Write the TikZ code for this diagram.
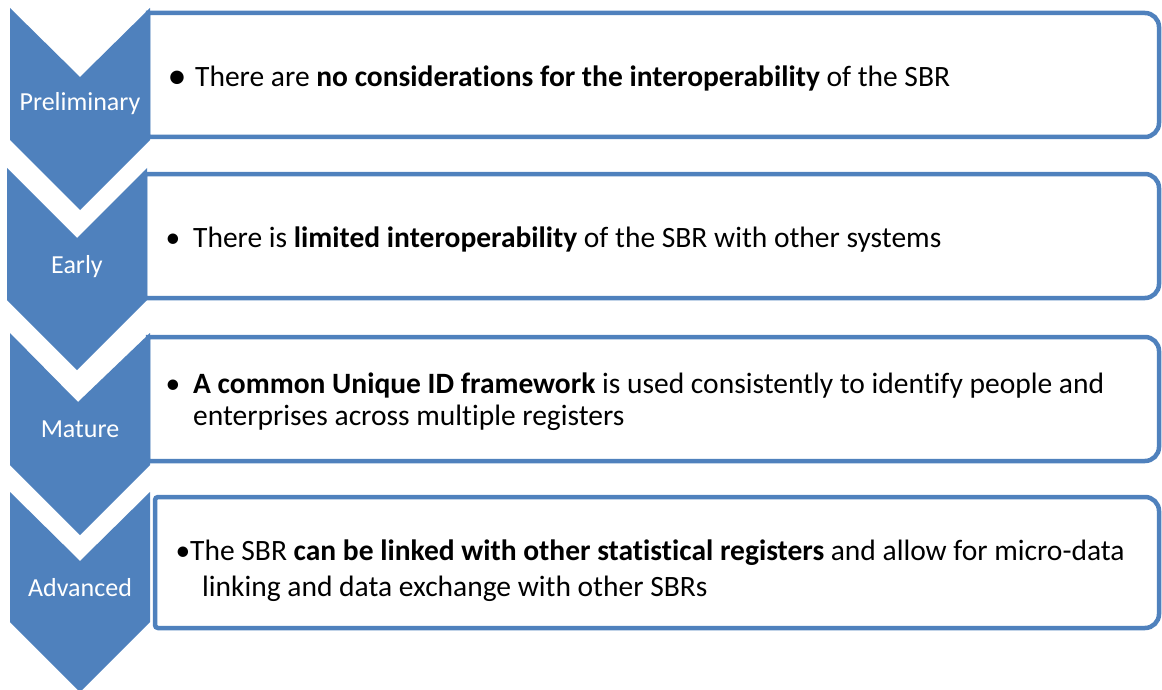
\documentclass[tikz,border=0pt]{standalone}
\usepackage{fontspec}
\setmainfont{Carlito}[Ligatures=NoCommon]
\definecolor{officeblue}{RGB}{79,129,189}
\begin{document}
\begin{tikzpicture}[x=1pt,y=-1pt,
  chevron/.style={fill=officeblue,draw=none},
  stagebox/.style={draw=officeblue,line width=4.5pt,fill=white},
  label/.style={text=white,font=\fontsize{26}{30}\selectfont,inner sep=0pt},
  txt/.style={font=\fontsize{29.5}{35}\selectfont,inner sep=0pt,anchor=base west},
  dot/.style={font=\fontsize{29.5}{35}\selectfont,inner sep=0pt,anchor=base}]
\useasboundingbox (0,0) rectangle (1162,690);

% content boxes (right corners rounded)
\draw[stagebox] (148,13) -- (1145,13) arc[start angle=-90,end angle=0,radius=14]
  -- (1159,123) arc[start angle=0,end angle=90,radius=14] -- (148,137) -- cycle;
\draw[stagebox] (145,174) -- (1145,174) arc[start angle=-90,end angle=0,radius=14]
  -- (1159,284) arc[start angle=0,end angle=90,radius=14] -- (145,298) -- cycle;
\draw[stagebox] (148,337) -- (1145,337) arc[start angle=-90,end angle=0,radius=14]
  -- (1159,447) arc[start angle=0,end angle=90,radius=14] -- (148,461) -- cycle;
\draw[stagebox] (158,497) -- (1145,497) arc[start angle=-90,end angle=0,radius=14]
  -- (1159,614) arc[start angle=0,end angle=90,radius=14] -- (158,628)
  arc[start angle=90,end angle=180,radius=3] -- (155,500)
  arc[start angle=180,end angle=270,radius=3] -- cycle;

% chevrons
\fill[chevron] (10,8) -- (80,77) -- (150,8) -- (150,140) -- (80,210) -- (10,140) -- cycle;
\fill[chevron] (7,168) -- (77,238) -- (147,168) -- (147,300) -- (77,370) -- (7,300) -- cycle;
\fill[chevron] (10,333) -- (78,402) -- (150,333) -- (150,465) -- (80,535) -- (10,465) -- cycle;
\fill[chevron] (10,492) -- (80,561) -- (150,492) -- (150,622) -- (80,692) -- (10,622) -- cycle;

% stage labels
\node[label] (s1) at (80,104) {Preliminary};
\node[label] (s2) at (77,267) {Early};
\node[label] (s3) at (80,429) {Mature};
\node[label] (s4) at (80,588) {Advanced};

% descriptions
\node[dot,font=\fontsize{38}{35}\selectfont] (b1) at (177,89) {•};
\node[txt] (t1) at (195,87) {There are \textbf{no considerations for the interoperability} of the SBR};

\node[dot] (b2) at (173,247) {•};
\node[txt] (t2) at (193,247) {There is \textbf{limited interoperability} of the SBR with other systems};

\node[dot] (b3) at (173,393) {•};
\node[txt] (t3a) at (193,393) {\textbf{A common Unique ID framework} is used consistently to identify people and};
\node[txt] (t3b) at (193,425) {enterprises across multiple registers};

\node[dot] (b4) at (183,560) {•};
\node[txt] (t4a) at (190,560) {The SBR \textbf{can be linked with other statistical registers} and allow for micro-data};
\node[txt] (t4b) at (202,596) {linking and data exchange with other SBRs};
\end{tikzpicture}
\end{document}
